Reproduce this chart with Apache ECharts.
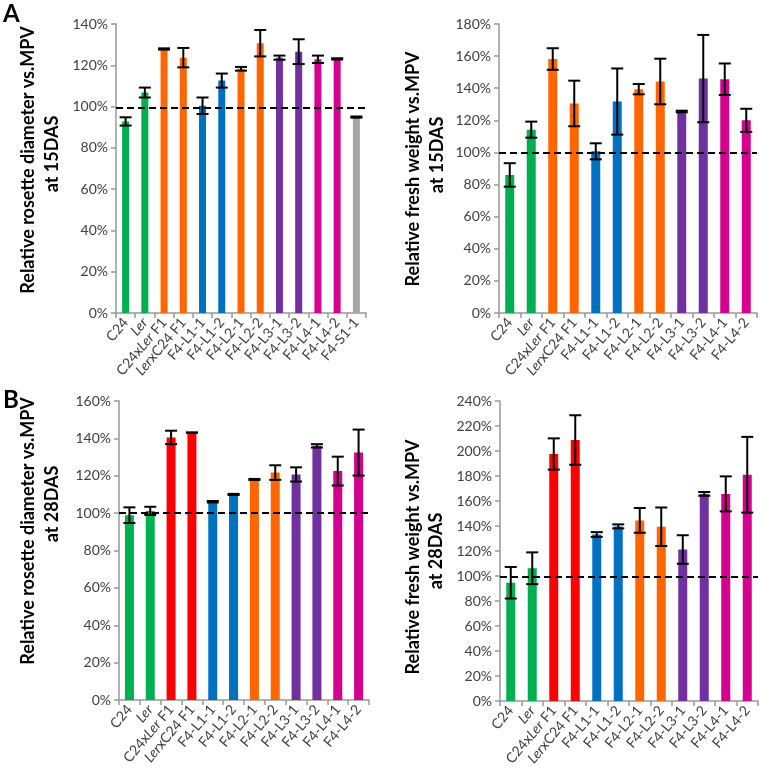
<!DOCTYPE html>
<html><head><meta charset="utf-8">
<script src="https://cdn.jsdelivr.net/npm/echarts@6/dist/echarts.min.js"></script>
<style>html,body{margin:0;padding:0;background:#fff}#c{width:762px;height:771px}</style>
</head><body><div id="c"></div>
<script>
// ---------- data ----------
const catsA1 = ['C24','Ler','C24xLer F1','LerxC24 F1','F4-L1-1','F4-L1-2','F4-L2-1','F4-L2-2','F4-L3-1','F4-L3-2','F4-L4-1','F4-L4-2','F4-S1-1'];
const groupsA1 = ['P','P','F1','F1','L1','L1','L2','L2','L3','L3','L4','L4','S1'];
const valsA1 = [92.8,106.8,127.9,123.7,100.4,112.6,118.3,130.7,123.7,126.6,122.9,123.1,94.9];
const errA1  = [2.0,2.4,0.3,4.7,4.0,3.4,0.9,6.4,1.0,6.0,1.8,0.3,0.3];
const refA1 = 99.4;

const catsA2 = ['C24','Ler','C24xLer F1','LerxC24 F1','F4-L1-1','F4-L1-2','F4-L2-1','F4-L2-2','F4-L3-1','F4-L3-2','F4-L4-1','F4-L4-2'];
const groupsA2 = ['P','P','F1','F1','L1','L1','L2','L2','L3','L3','L4','L4'];
const valsA2 = [86.0,114.2,158.2,130.5,100.7,131.7,139.4,144.2,125.5,146.0,145.6,120.0];
const errA2  = [7.3,5.0,6.7,14.2,5.0,20.6,3.2,14.2,0.5,27.2,9.8,7.2];
const refA2 = 100;

const catsB1 = ['C24','Ler','C24xLer F1','LerxC24 F1','F4-L1-1','F4-L1-2','F4-L2-1','F4-L2-2','F4-L3-1','F4-L3-2','F4-L4-1','F4-L4-2'];
const groupsB1 = ['P','P','F1B','F1B','L1','L1','L2','L2','L3','L3','L4','L4'];
const valsB1 = [98.9,101.2,140.5,143.1,106.1,110.0,118.0,121.7,120.7,136.0,122.5,132.4];
const errB1  = [4.2,2.2,3.6,0,0.4,0.3,0.3,3.9,3.8,0.9,7.7,12.3];
const refB1 = 100;

const catsB2 = ['C24','Ler','C24xLer F1','LerxC24 F1','F4-L1-1','F4-L1-2','F4-L2-1','F4-L2-2','F4-L3-1','F4-L3-2','F4-L4-1','F4-L4-2'];
const groupsB2 = ['P','P','F1B','F1B','L1','L1','L2','L2','L3','L3','L4','L4'];
const valsB2 = [94.6,106.2,197.6,208.8,133.2,139.7,144.5,139.4,121.2,165.7,165.7,181.0];
const errB2  = [12.6,12.7,12.5,19.8,1.9,1.6,9.9,15.4,11.4,1.5,14.0,30.3];
const refB2 = 99.5;

// ---------- styles ----------
const groupColor = {P:'#00B050', F1:'#FF6600', F1B:'#FF0000', L1:'#0070C0', L2:'#FF6600', L3:'#7030A0', L4:'#D6008F', S1:'#A6A6A6'};
const FONT = 'Lato';
const panels = [
  {cats:catsA1, groups:groupsA1, vals:valsA1, err:errA1, ref:refA1, max:140, grid:{left:116, top:24, width:250, height:289}, barW:7,
   title:['Relative rosette diameter vs.MPV','at 15DAS'], tx:[28,52], ty:[160,154]},
  {cats:catsA2, groups:groupsA2, vals:valsA2, err:errA2, ref:refA2, max:180, grid:{left:499, top:24, width:258, height:289}, barW:9,
   title:['Relative fresh weight vs.MPV','at 15DAS'], tx:[413,437], ty:[169,155]},
  {cats:catsB1, groups:groupsB1, vals:valsB1, err:errB1, ref:refB1, max:160, grid:{left:119, top:401, width:250, height:299}, barW:9,
   title:['Relative rosette diameter vs.MPV','at 28DAS'], tx:[28,52], ty:[531,504]},
  {cats:catsB2, groups:groupsB2, vals:valsB2, err:errB2, ref:refB2, max:240, grid:{left:500, top:401, width:258, height:300}, barW:9,
   title:['Relative fresh weight vs.MPV','at 28DAS'], tx:[413,436], ty:[557,551]}
];

function catLabel(v){
  if (v === 'Ler') return '{i|Ler}';
  if (v === 'C24xLer F1') return '{n|C24x}{i|Ler}{n| F1}';
  if (v === 'LerxC24 F1') return '{i|Ler}{n|xC24 F1}';
  return '{n|' + v + '}';
}

function errRender(params, api){
  const x = api.value(0), v = api.value(1), e = api.value(2);
  const t = api.coord([x, v + e]), b = api.coord([x, v - e]);
  const hw = 6;
  const st = {stroke:'#000', lineWidth:2};
  return {type:'group', children:[
    {type:'line', shape:{x1:t[0], y1:t[1], x2:b[0], y2:b[1]}, style:st},
    {type:'line', shape:{x1:t[0]-hw, y1:t[1], x2:t[0]+hw, y2:t[1]}, style:st},
    {type:'line', shape:{x1:b[0]-hw, y1:b[1], x2:b[0]+hw, y2:b[1]}, style:st}
  ]};
}

const grids = [], xAxes = [], yAxes = [], series = [], graphics = [];
panels.forEach((p, i) => {
  grids.push(p.grid);
  xAxes.push({type:'category', gridIndex:i, data:p.cats, boundaryGap:true,
    axisLine:{lineStyle:{color:'#999', width:1.5}},
    axisTick:{show:true, alignWithLabel:false, length:5, lineStyle:{color:'#999', width:1.5}},
    axisLabel:{interval:0, rotate:50, margin:7, formatter:catLabel,
      rich:{n:{fontFamily:FONT, fontSize:14, color:'#404040'}, i:{fontFamily:FONT, fontSize:14, color:'#404040', fontStyle:'italic'}}}
  });
  yAxes.push({type:'value', gridIndex:i, min:0, max:p.max, interval:20,
    axisLine:{show:true, lineStyle:{color:'#999', width:1.5}},
    axisTick:{show:true, length:5, lineStyle:{color:'#999', width:1.5}},
    splitLine:{show:false},
    axisLabel:{formatter:'{value}%', fontFamily:FONT, fontSize:14, color:'#404040', margin:8}
  });
  series.push({type:'bar', xAxisIndex:i, yAxisIndex:i, barWidth:p.barW,
    data:p.vals.map((v, k) => ({value:v, itemStyle:{color:groupColor[p.groups[k]]}})),
    markLine:{silent:true, symbol:'none', label:{show:false},
      lineStyle:{type:[7,4], color:'#000', width:2}, data:[{yAxis:p.ref}]}
  });
  series.push({type:'custom', xAxisIndex:i, yAxisIndex:i, renderItem:errRender, z:5,
    encode:{x:0, y:1},
    data:p.vals.map((v, k) => [k, v, p.err[k]])
  });
  p.title.forEach((t, j) => {
    graphics.push({type:'text', x:p.tx[j], y:p.ty[j], rotation:Math.PI/2,
      style:{text:t, font:'bold 18px ' + FONT, fill:'#000', textAlign:'center', textVerticalAlign:'middle'}});
  });
});
graphics.push({type:'text', left:3, top:2, style:{text:'A', font:'bold 24px ' + FONT, fill:'#000'}});
graphics.push({type:'text', left:3, top:388, style:{text:'B', font:'bold 24px ' + FONT, fill:'#000'}});

const chart = echarts.init(document.getElementById('c'), null, {renderer:'canvas'});
chart.setOption({animation:false, backgroundColor:'#fff', grid:grids, xAxis:xAxes, yAxis:yAxes, series:series, graphic:graphics});
</script>
</body></html>
